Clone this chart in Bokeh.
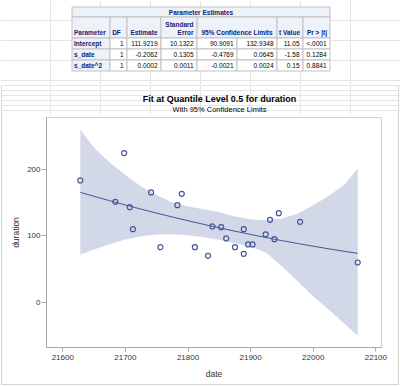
from bokeh.plotting import figure
from bokeh.models import Range1d, FixedTicker
from bokeh.layouts import column
from bokeh.embed import file_html
from bokeh.resources import INLINE
from bokeh.core.properties import value

# ---------------- data ----------------
tbl_title = "Parameter Estimates"
tbl_headers = ["Parameter", "DF", "Estimate", "Standard|Error", "95% Confidence Limits", "t Value", "Pr > |t|"]
param_names = ["Intercept", "s_date", "s_date^2"]
param_df = ["1", "1", "1"]
param_est = ["111.9219", "-0.2062", "0.0002"]
param_se = ["10.1322", "0.1305", "0.0011"]
param_lcl = ["90.9091", "-0.4769", "-0.0021"]
param_ucl = ["132.9348", "0.0645", "0.0024"]
param_t = ["11.05", "-1.58", "0.15"]
param_p = ["<.0001", "0.1284", "0.8841"]

dates = [21628, 21684, 21698, 21707, 21712, 21741, 21756, 21783, 21790, 21811,
         21832, 21839, 21853, 21861, 21875, 21889, 21889, 21896, 21903, 21924,
         21931, 21938, 21945, 21979, 22071]
durations = [183, 151, 224, 143, 110, 165, 83, 146, 163, 83,
             70, 114, 113, 96, 83, 110, 73, 87, 87, 102,
             124, 95, 134, 121, 60]

band_dates = [21628, 21650, 21675, 21700, 21725, 21750, 21775, 21800, 21825, 21850,
              21875, 21900, 21925, 21950, 21975, 22000, 22025, 22050, 22071]
fit_vals = [165.1, 159.2, 152.6, 146.2, 140.0, 134.0, 128.2, 122.6, 117.2, 111.9,
            106.9, 102.0, 97.3, 92.8, 88.5, 84.4, 80.4, 76.7, 73.7]
upper_vals = [259, 232, 210, 191, 174, 161, 150, 144, 140, 135.5,
              129, 125, 123.5, 126, 133, 146, 160, 177, 201]
lower_vals = [72, 79.5, 87.5, 94.5, 99.5, 102, 102.5, 101, 98, 94,
              89, 83.5, 74.5, 54.5, 32, 9, -11, -32, -50]

x_ticks = [21600, 21700, 21800, 21900, 22000, 22100]
y_ticks = [0, 100, 200]

plot_title = "Fit at Quantile Level 0.5 for duration"
plot_subtitle = "With 95% Confidence Limits"
x_label = "date"
y_label = "duration"

# ---------------- styles ----------------
FONT = "Liberation Sans"
HDR_BG = "#EDF2F9"
HDR_FG = "#112277"
BORDER = "#C1C1C1"
GBORDER = "#D3D3D3"
DATA_CLR = "#445694"
BAND_CLR = "#D3D8E8"

W = 400
TAB_H = 84
TTL_H = 31
BOT_H = 386 - TAB_H - TTL_H


def no_align(fig):
    if "frame_align" in fig.properties():
        fig.frame_align = False


def blank_fig(height, y0, transparent=False):
    f = figure(width=W, height=height, x_range=Range1d(0, W), y_range=Range1d(y0 + height, y0),
               x_axis_location=None, y_axis_location=None, toolbar_location=None,
               output_backend="svg", min_border=0, min_border_left=0, min_border_right=0,
               min_border_top=0, min_border_bottom=0)
    no_align(f)
    f.outline_line_color = None
    if transparent:
        f.border_fill_color = None
        f.background_fill_color = None
    else:
        f.border_fill_color = "white"
        f.background_fill_color = "white"
    return f


fs = value("6.5px")
tf = value(FONT)
bold = value("bold")

# ---------------- table figure ----------------
t = blank_fig(TAB_H, 0)
col_edges = [71.5, 109.5, 126.5, 160.5, 196.5, 236.5, 276.5, 302.5, 329.5]
row_edges = [6.5, 16.5, 37.5, 48.5, 59.5, 70.5]

t.quad(left=[col_edges[0]], right=[col_edges[-1]], top=[row_edges[0]], bottom=[row_edges[1]],
       fill_color=HDR_BG, line_color=BORDER, line_width=1)
hdr_l = [col_edges[0], col_edges[1], col_edges[2], col_edges[3], col_edges[4], col_edges[6], col_edges[7]]
hdr_r = [col_edges[1], col_edges[2], col_edges[3], col_edges[4], col_edges[6], col_edges[7], col_edges[8]]
t.quad(left=hdr_l, right=hdr_r, top=[row_edges[1]] * 7, bottom=[row_edges[2]] * 7,
       fill_color=HDR_BG, line_color=BORDER, line_width=1)
for i in range(3):
    top, bot = row_edges[2 + i], row_edges[3 + i]
    t.quad(left=[col_edges[0]], right=[col_edges[1]], top=[top], bottom=[bot],
           fill_color=HDR_BG, line_color=BORDER, line_width=1)
    t.quad(left=col_edges[1:-1], right=col_edges[2:], top=[top] * 7, bottom=[bot] * 7,
           fill_color="white", line_color=BORDER, line_width=1)

t.text(x=[200.5], y=[11.8], text=[tbl_title], text_align="center", text_baseline="middle",
       text_font=tf, text_font_size=fs, text_font_style=bold, text_color=HDR_FG)
t.text(x=[73.5], y=[31.8], text=[tbl_headers[0]], text_align="left", text_baseline="middle",
       text_font=tf, text_font_size=fs, text_font_style=bold, text_color=HDR_FG)
t.text(x=[116], y=[31.8], text=[tbl_headers[1]], text_align="center", text_baseline="middle",
       text_font=tf, text_font_size=fs, text_font_style=bold, text_color=HDR_FG)
std1, std2 = tbl_headers[3].split("|")
t.text(x=[157, 193, 193, 299.5, 326.5], y=[31.8, 24.2, 31.8, 31.8, 31.8],
       text=[tbl_headers[2], std1, std2, tbl_headers[5], tbl_headers[6]],
       text_align="right", text_baseline="middle",
       text_font=tf, text_font_size=fs, text_font_style=bold, text_color=HDR_FG)
t.text(x=[236.5], y=[31.8], text=[tbl_headers[4]], text_align="center", text_baseline="middle",
       text_font=tf, text_font_size=fs, text_font_style=bold, text_color=HDR_FG)
row_y = [43.2, 54.2, 65.2]
t.text(x=[73.5] * 3, y=row_y, text=param_names, text_align="left", text_baseline="middle",
       text_font=tf, text_font_size=fs, text_font_style=bold, text_color=HDR_FG)
for j, col in enumerate([param_df, param_est, param_se, param_lcl, param_ucl, param_t, param_p]):
    xr = col_edges[j + 2] - 3.5
    t.text(x=[xr] * 3, y=row_y, text=col, text_align="right", text_baseline="middle",
           text_font=tf, text_font_size=fs, text_color="#000000")

# ---------------- title figure ----------------
h = blank_fig(TTL_H, TAB_H, transparent=True)
h.text(x=[219], y=[98.7], text=[plot_title], text_align="center", text_baseline="middle",
       text_font=tf, text_font_size=value("9px"), text_font_style=bold, text_color="#000000")
h.text(x=[219], y=[108.7], text=[plot_subtitle], text_align="center", text_baseline="middle",
       text_font=tf, text_font_size=value("7.5px"), text_color="#000000")

# ---------------- graph figure ----------------
p = figure(width=W, height=BOT_H, x_range=Range1d(21574, 22109), y_range=Range1d(-67.5, 277.4),
           output_backend="svg", toolbar_location=None,
           min_border_left=46, min_border_right=19, min_border_top=2, min_border_bottom=39)
no_align(p)
p.outline_line_color = "#D0D0D0"
p.grid.visible = False
p.border_fill_color = None
p.background_fill_color = "white"

p.varea(x=band_dates, y1=lower_vals, y2=upper_vals, fill_color=BAND_CLR, fill_alpha=1.0)
p.line(x=band_dates, y=fit_vals, line_color=DATA_CLR, line_width=1)
p.scatter(x=dates, y=durations, marker="circle", size=5, fill_color=None,
          line_color=DATA_CLR, line_width=1.2)

p.xaxis.ticker = FixedTicker(ticks=x_ticks)
p.yaxis.ticker = FixedTicker(ticks=y_ticks)
p.xaxis.axis_label = x_label
p.yaxis.axis_label = y_label
for ax in (p.xaxis, p.yaxis):
    ax.major_label_text_font = FONT
    ax.major_label_text_font_size = "8px"
    ax.major_label_text_color = "#333333"
    ax.axis_label_text_font = FONT
    ax.axis_label_text_font_size = "8.5px"
    ax.axis_label_text_font_style = "normal"
    ax.axis_label_text_color = "#333333"
    ax.minor_tick_line_color = None
    ax.major_tick_in = 0
    ax.axis_line_color = "#A8A8A8"
    ax.major_tick_line_color = "#A8A8A8"
p.xaxis.major_tick_out = 4
p.xaxis.major_label_standoff = 3
p.xaxis.axis_label_standoff = 6
p.yaxis.major_tick_out = 5
p.yaxis.major_label_standoff = 1
p.yaxis.axis_label_standoff = 3

# light grey frame around the whole graph (drawn by the container, seen through transparent borders)
graph_box = column(h, p, spacing=0,
                   styles={"background-color": "white",
                           "box-shadow": "inset 0 0 0 1px white, inset 0 0 0 2px " + GBORDER})
layout = column(t, graph_box, spacing=0)
open("out.html", "w").write(file_html(layout, INLINE))
